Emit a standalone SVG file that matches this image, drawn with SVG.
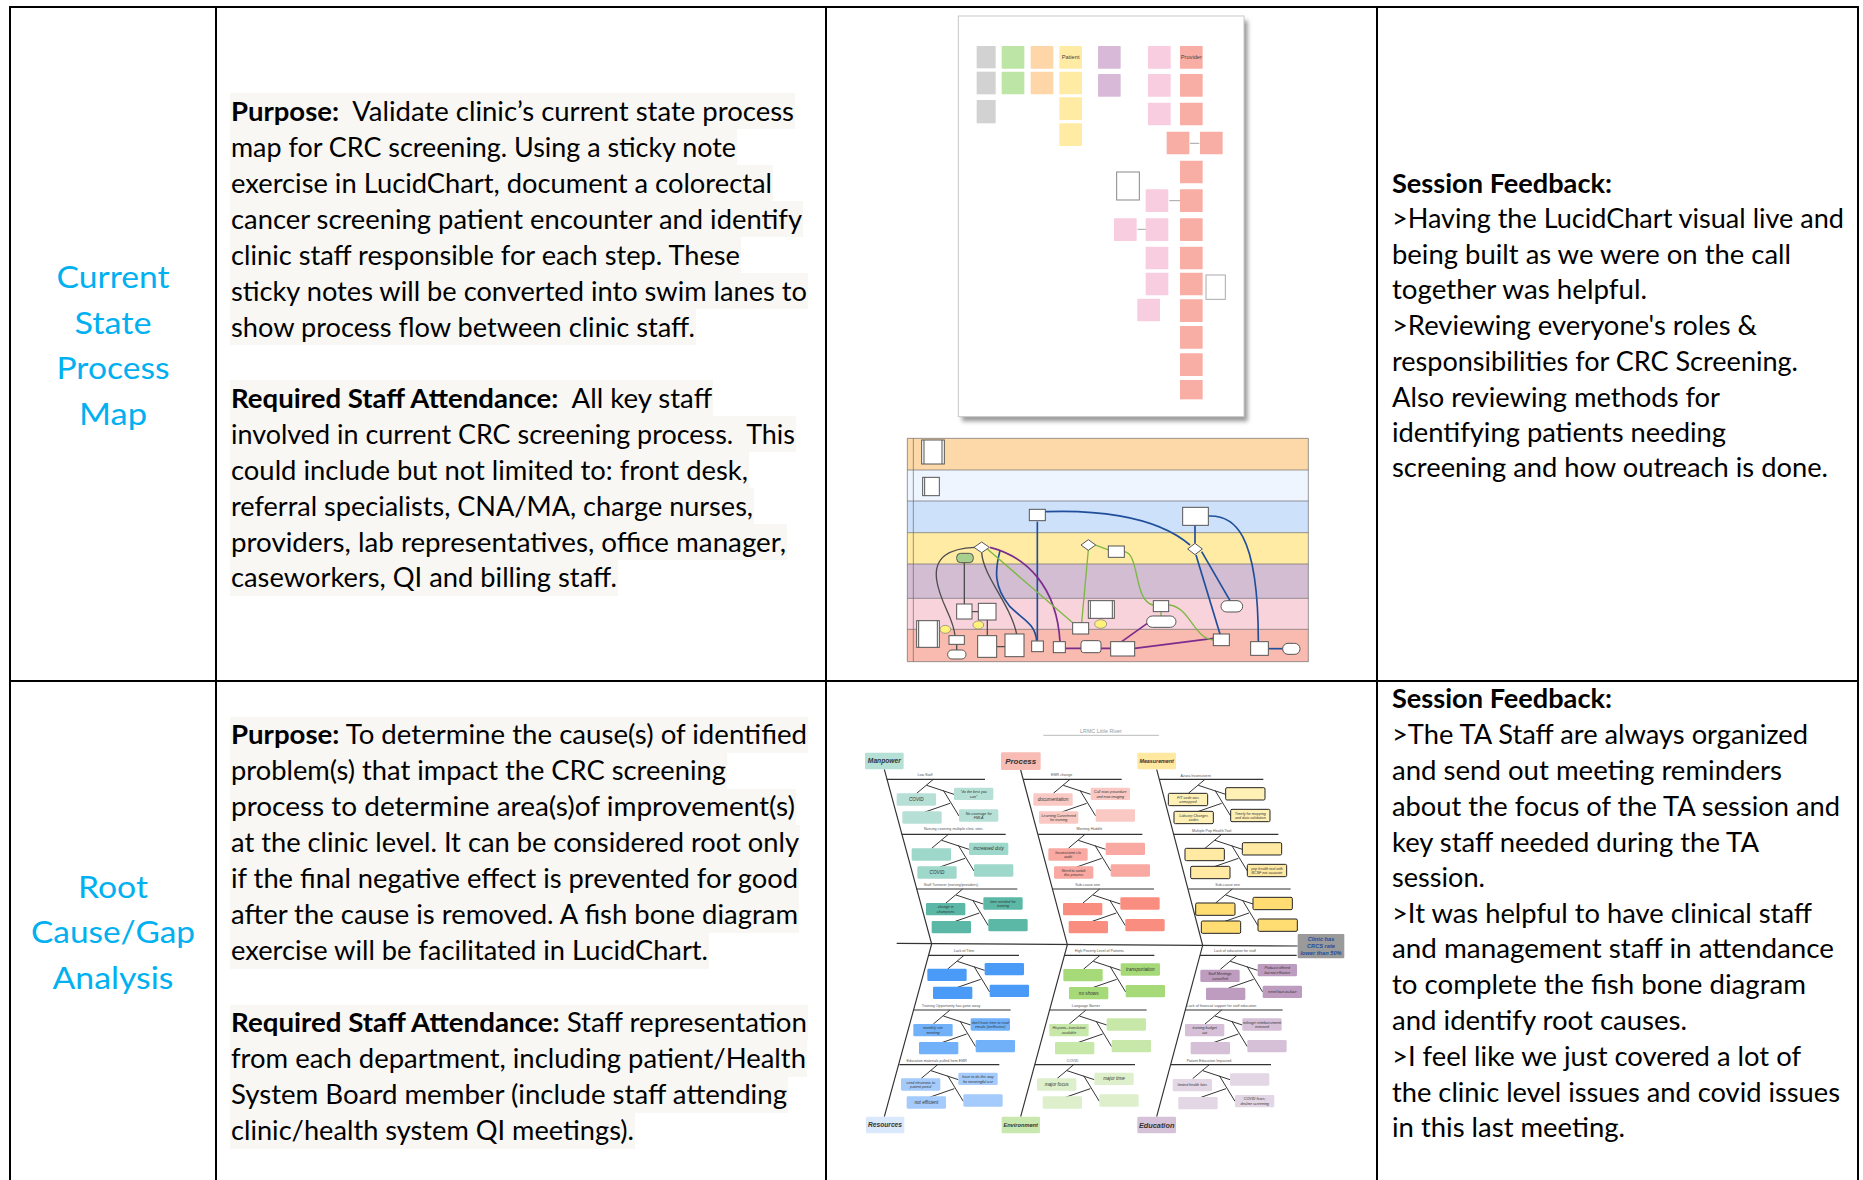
<svg xmlns="http://www.w3.org/2000/svg" xmlns:xlink="http://www.w3.org/1999/xlink" width="1863" height="1180" viewBox="0 0 1863 1180">
<style>
.t{font-family:Lato,"Liberation Sans",sans-serif;font-size:27px;fill:#000}
.b{font-weight:bold}
.lbl{font-family:Lato,"Liberation Sans",sans-serif;font-size:31px;fill:#00B0F0;text-anchor:middle}
.hl{fill:#F8F7F4}
.grid{stroke:#000;stroke-width:2;fill:none}
.sn{stroke:none}
.sw{fill:#fff;stroke:#555;stroke-width:3}
.lane{stroke:#666;stroke-width:2}
.cb{fill:none;stroke:#1F4E9A;stroke-width:5}
.cp{fill:none;stroke:#7B2D8E;stroke-width:5}
.cg{fill:none;stroke:#7DB843;stroke-width:4}
.ck{fill:none;stroke:#4D4D4D;stroke-width:4}
.bone{fill:none;stroke:#333;stroke-width:3.5}
.fb{font-family:"Liberation Sans",sans-serif;font-style:italic;fill:#333;text-anchor:middle}
.bt{font-size:14px}
.bt2{font-size:11px}
.sub{font-family:"Liberation Sans",sans-serif;font-size:11px;fill:#555;text-anchor:middle}
.cat{font-family:"Liberation Sans",sans-serif;font-style:italic;font-weight:bold;fill:#333;text-anchor:middle}
</style>
<defs>
<filter id="shd" x="-10%" y="-10%" width="130%" height="130%"><feGaussianBlur stdDeviation="6"/></filter>
<path id="fan" d="M0,0 L-50,42 M-20,18 L62,45 M30,33 L77,110 M50,72 L-25,98" fill="none" stroke="#333" stroke-width="3"/>
<rect id="bx" width="118" height="37" rx="4"/>
<rect id="st" width="68" height="68" rx="2"/>
</defs>
<rect width="1863" height="1180" fill="#fff"/>

<g id="grid">
<path class="grid" d="M9,7 H1859 M10,6 V1180 M216,7 V1180 M826,7 V1180 M1377,7 V1180 M1858,6 V1180 M9,681 H1859"/>
</g>

<g id="label-current-state">
<text class="lbl" x="113" y="288" textLength="113" lengthAdjust="spacingAndGlyphs">Current</text>
<text class="lbl" x="113" y="334" textLength="77" lengthAdjust="spacingAndGlyphs">State</text>
<text class="lbl" x="113" y="379" textLength="113" lengthAdjust="spacingAndGlyphs">Process</text>
<text class="lbl" x="113" y="425" textLength="68" lengthAdjust="spacingAndGlyphs">Map</text>
</g>
<g id="label-root-cause">
<text class="lbl" x="113" y="898" textLength="70" lengthAdjust="spacingAndGlyphs">Root</text>
<text class="lbl" x="113" y="943" textLength="164" lengthAdjust="spacingAndGlyphs">Cause/Gap</text>
<text class="lbl" x="113" y="989" textLength="121" lengthAdjust="spacingAndGlyphs">Analysis</text>
</g>

<g id="purpose-row1">
<rect class="hl" x="230" y="93" width="565" height="36"/>
<rect class="hl" x="230" y="129" width="507" height="36"/>
<rect class="hl" x="230" y="165" width="543" height="36"/>
<rect class="hl" x="230" y="201" width="573" height="36"/>
<rect class="hl" x="230" y="237" width="511" height="36"/>
<rect class="hl" x="230" y="273" width="578" height="36"/>
<rect class="hl" x="230" y="309" width="466" height="36"/>
<rect class="hl" x="230" y="380" width="483" height="36"/>
<rect class="hl" x="230" y="416" width="566" height="36"/>
<rect class="hl" x="230" y="452" width="519" height="36"/>
<rect class="hl" x="230" y="488" width="524" height="36"/>
<rect class="hl" x="230" y="524" width="557" height="36"/>
<rect class="hl" x="230" y="560" width="388" height="36"/>
<text class="t" x="231" y="121" xml:space="preserve" textLength="563" lengthAdjust="spacingAndGlyphs"><tspan class="b">Purpose:</tspan>  Validate clinic’s current state process</text>
<text class="t" x="231" y="157" textLength="505" lengthAdjust="spacingAndGlyphs">map for CRC screening. Using a sticky note</text>
<text class="t" x="231" y="193" textLength="541" lengthAdjust="spacingAndGlyphs">exercise in LucidChart, document a colorectal</text>
<text class="t" x="231" y="229" textLength="571" lengthAdjust="spacingAndGlyphs">cancer screening patient encounter and identify</text>
<text class="t" x="231" y="265" textLength="509" lengthAdjust="spacingAndGlyphs">clinic staff responsible for each step. These</text>
<text class="t" x="231" y="301" textLength="576" lengthAdjust="spacingAndGlyphs">sticky notes will be converted into swim lanes to</text>
<text class="t" x="231" y="337" textLength="464" lengthAdjust="spacingAndGlyphs">show process flow between clinic staff.</text>
<text class="t" x="231" y="408" xml:space="preserve" textLength="481" lengthAdjust="spacingAndGlyphs"><tspan class="b">Required Staff Attendance:</tspan>  All key staff</text>
<text class="t" x="231" y="444" xml:space="preserve" textLength="564" lengthAdjust="spacingAndGlyphs">involved in current CRC screening process.  This</text>
<text class="t" x="231" y="480" textLength="517" lengthAdjust="spacingAndGlyphs">could include but not limited to: front desk,</text>
<text class="t" x="231" y="516" textLength="522" lengthAdjust="spacingAndGlyphs">referral specialists, CNA/MA, charge nurses,</text>
<text class="t" x="231" y="552" textLength="555" lengthAdjust="spacingAndGlyphs">providers, lab representatives, office manager,</text>
<text class="t" x="231" y="587" textLength="386" lengthAdjust="spacingAndGlyphs">caseworkers, QI and billing staff.</text>
</g>

<g id="purpose-row2">
<rect class="hl" x="230" y="717" width="578" height="36"/>
<rect class="hl" x="230" y="753" width="497" height="36"/>
<rect class="hl" x="230" y="789" width="566" height="36"/>
<rect class="hl" x="230" y="825" width="570" height="36"/>
<rect class="hl" x="230" y="861" width="569" height="36"/>
<rect class="hl" x="230" y="897" width="569" height="36"/>
<rect class="hl" x="230" y="933" width="479" height="36"/>
<rect class="hl" x="230" y="1005" width="578" height="36"/>
<rect class="hl" x="230" y="1041" width="577" height="36"/>
<rect class="hl" x="230" y="1077" width="558" height="36"/>
<rect class="hl" x="230" y="1113" width="405" height="36"/>
<text class="t" x="231" y="744" textLength="576" lengthAdjust="spacingAndGlyphs"><tspan class="b">Purpose:</tspan> To determine the cause(s) of identified</text>
<text class="t" x="231" y="780" textLength="495" lengthAdjust="spacingAndGlyphs">problem(s) that impact the CRC screening</text>
<text class="t" x="231" y="816" textLength="564" lengthAdjust="spacingAndGlyphs">process to determine area(s)of improvement(s)</text>
<text class="t" x="231" y="852" textLength="568" lengthAdjust="spacingAndGlyphs">at the clinic level. It can be considered root only</text>
<text class="t" x="231" y="888" textLength="567" lengthAdjust="spacingAndGlyphs">if the final negative effect is prevented for good</text>
<text class="t" x="231" y="924" textLength="567" lengthAdjust="spacingAndGlyphs">after the cause is removed. A fish bone diagram</text>
<text class="t" x="231" y="960" textLength="477" lengthAdjust="spacingAndGlyphs">exercise will be facilitated in LucidChart.</text>
<text class="t" x="231" y="1032" textLength="576" lengthAdjust="spacingAndGlyphs"><tspan class="b">Required Staff Attendance:</tspan> Staff representation</text>
<text class="t" x="231" y="1068" textLength="575" lengthAdjust="spacingAndGlyphs">from each department, including patient/Health</text>
<text class="t" x="231" y="1104" textLength="556" lengthAdjust="spacingAndGlyphs">System Board member (include staff attending</text>
<text class="t" x="231" y="1140" textLength="403" lengthAdjust="spacingAndGlyphs">clinic/health system QI meetings).</text>
</g>

<g id="feedback-row1">
<text class="t b" x="1392" y="193" textLength="220" lengthAdjust="spacingAndGlyphs">Session Feedback:</text>
<text class="t" x="1392" y="228" textLength="452" lengthAdjust="spacingAndGlyphs">&gt;Having the LucidChart visual live and</text>
<text class="t" x="1392" y="264" textLength="399" lengthAdjust="spacingAndGlyphs">being built as we were on the call</text>
<text class="t" x="1392" y="299" textLength="255" lengthAdjust="spacingAndGlyphs">together was helpful.</text>
<text class="t" x="1392" y="335" textLength="365" lengthAdjust="spacingAndGlyphs">&gt;Reviewing everyone's roles &amp;</text>
<text class="t" x="1392" y="371" textLength="406" lengthAdjust="spacingAndGlyphs">responsibilities for CRC Screening.</text>
<text class="t" x="1392" y="407" textLength="328" lengthAdjust="spacingAndGlyphs">Also reviewing methods for</text>
<text class="t" x="1392" y="442" textLength="334" lengthAdjust="spacingAndGlyphs">identifying patients needing</text>
<text class="t" x="1392" y="477" textLength="436" lengthAdjust="spacingAndGlyphs">screening and how outreach is done.</text>
</g>

<g id="feedback-row2">
<text class="t b" x="1392" y="708" textLength="220" lengthAdjust="spacingAndGlyphs">Session Feedback:</text>
<text class="t" x="1392" y="744" textLength="416" lengthAdjust="spacingAndGlyphs">&gt;The TA Staff are always organized</text>
<text class="t" x="1392" y="780" textLength="390" lengthAdjust="spacingAndGlyphs">and send out meeting reminders</text>
<text class="t" x="1392" y="816" textLength="448" lengthAdjust="spacingAndGlyphs">about the focus of the TA session and</text>
<text class="t" x="1392" y="852" textLength="367" lengthAdjust="spacingAndGlyphs">key staff needed during the TA</text>
<text class="t" x="1392" y="887" textLength="93" lengthAdjust="spacingAndGlyphs">session.</text>
<text class="t" x="1392" y="923" textLength="420" lengthAdjust="spacingAndGlyphs">&gt;It was helpful to have clinical staff</text>
<text class="t" x="1392" y="958" textLength="442" lengthAdjust="spacingAndGlyphs">and management staff in attendance</text>
<text class="t" x="1392" y="994" textLength="414" lengthAdjust="spacingAndGlyphs">to complete the fish bone diagram</text>
<text class="t" x="1392" y="1030" textLength="295" lengthAdjust="spacingAndGlyphs">and identify root causes.</text>
<text class="t" x="1392" y="1066" textLength="409" lengthAdjust="spacingAndGlyphs">&gt;I feel like we just covered a lot of</text>
<text class="t" x="1392" y="1102" textLength="448" lengthAdjust="spacingAndGlyphs">the clinic level issues and covid issues</text>
<text class="t" x="1392" y="1137" textLength="233" lengthAdjust="spacingAndGlyphs">in this last meeting.</text>
</g>

<g id="sticky-notes" transform="translate(940,0) scale(0.33333)">
<rect x="66" y="62" width="857" height="1202" fill="#9a9a9a" filter="url(#shd)"/>
<rect x="55" y="48" width="857" height="1202" fill="#fff" stroke="#c8c8c8" stroke-width="3"/>
<g fill="#D2D2D2">
<rect x="110" y="138" width="57" height="67"/><rect x="110" y="215" width="57" height="68"/><rect x="110" y="300" width="57" height="70"/>
</g>
<g fill="#BDE5A6"><use href="#st" x="185" y="138"/><use href="#st" x="185" y="215"/></g>
<g fill="#FFD6A8"><use href="#st" x="272" y="138"/><use href="#st" x="272" y="215"/></g>
<g fill="#FFEBA3"><use href="#st" x="358" y="138"/><use href="#st" x="358" y="215"/><use href="#st" x="358" y="292"/><use href="#st" x="358" y="370"/></g>
<g fill="#D8BAD8"><use href="#st" x="474" y="138"/><use href="#st" x="474" y="222"/></g>
<g fill="#F9CDE0"><use href="#st" x="624" y="138"/><use href="#st" x="624" y="222"/><use href="#st" x="624" y="308"/>
<use href="#st" x="617" y="568"/><use href="#st" x="522" y="655"/><use href="#st" x="617" y="655"/><use href="#st" x="617" y="740"/><use href="#st" x="617" y="818"/><use href="#st" x="592" y="896"/></g>
<g fill="#F9AEA5"><use href="#st" x="720" y="138"/><use href="#st" x="720" y="222"/><use href="#st" x="720" y="308"/>
<use href="#st" x="680" y="395"/><use href="#st" x="780" y="395"/><use href="#st" x="720" y="482"/><use href="#st" x="720" y="568"/><use href="#st" x="720" y="655"/><use href="#st" x="720" y="740"/><use href="#st" x="720" y="818"/><use href="#st" x="720" y="898"/><use href="#st" x="720" y="978"/><use href="#st" x="720" y="1060"/><rect x="720" y="1140" width="68" height="58"/></g>
<rect x="530" y="516" width="68" height="84" fill="#fff" stroke="#888" stroke-width="3"/>
<rect x="798" y="825" width="58" height="73" fill="#fff" stroke="#aaa" stroke-width="3"/>
<path d="M750,430 H778 M720,602 H688 M617,688 H593" stroke="#777" stroke-width="2" fill="none"/>
<text x="754" y="176" font-family="Liberation Sans,sans-serif" font-size="17" fill="#444" text-anchor="middle">Provider</text>
<text x="392" y="176" font-family="Liberation Sans,sans-serif" font-size="17" fill="#444" text-anchor="middle">Patient</text>
</g>

<g id="swimlane" transform="translate(900,430) scale(0.33333)">
<rect x="22" y="25" width="1203" height="95" fill="#FDD9A9"/>
<rect x="22" y="120" width="1203" height="93" fill="#EEF5FE"/>
<rect x="22" y="213" width="1203" height="95" fill="#CDE1FA"/>
<rect x="22" y="308" width="1203" height="94" fill="#FFEBA3"/>
<rect x="22" y="402" width="1203" height="103" fill="#D2BDD3"/>
<rect x="22" y="505" width="1203" height="93" fill="#F9D3DC"/>
<rect x="22" y="598" width="1203" height="97" fill="#F9BAAF"/>
<path class="lane" d="M22,25 H1225 V695 H22 Z M22,120 H1225 M22,213 H1225 M22,308 H1225 M22,402 H1225 M22,505 H1225 M22,598 H1225 M40,25 V695" fill="none"/>
<g id="sl-connectors">
<path class="cb" d="M436,245 C560,240 760,250 870,345"/>
<path class="cb" d="M925,258 C1000,255 1075,300 1075,635"/>
<path class="cb" d="M412,275 L412,632"/>
<path class="cb" d="M885,286 L885,340"/>
<path class="cb" d="M888,375 L960,612"/>
<path class="cb" d="M905,365 L990,512"/>
<path class="cb" d="M300,362 C285,420 280,470 330,530 C370,570 405,580 410,632"/>
<path class="cb" d="M1105,656 L1148,656"/>
<path class="cp" d="M270,352 C380,380 470,470 480,635"/>
<path class="cp" d="M496,655 L543,655 M603,655 L632,655 M704,655 L940,625 M665,635 L745,578"/>
<path class="cg" d="M262,357 L520,580 M565,360 L545,578 M585,345 L625,360 M783,545 L783,558"/>
<path class="cg" d="M673,365 C720,370 700,515 760,525"/>
<path class="cg" d="M806,525 C870,530 880,625 940,630"/>
<path class="ck" d="M225,352 C150,355 100,380 110,450 C120,520 160,560 165,617"/>
<path class="ck" d="M245,368 C250,440 330,520 350,612"/>
<path class="ck" d="M193,398 L193,522 M216,545 L235,545 M262,570 L262,617 M170,643 L170,660 M290,650 L315,650"/>
</g>
<g id="sl-nodes">
<rect class="sw" x="65" y="30" width="68" height="72"/><path d="M72,30 V102 M126,30 V102" stroke="#555" stroke-width="3"/>
<rect class="sw" x="68" y="142" width="50" height="55"/><path d="M74,142 V197" stroke="#555" stroke-width="3"/>
<rect class="sw" x="388" y="238" width="48" height="34"/>
<rect class="sw" x="848" y="232" width="77" height="54"/>
<path class="sw" d="M245,336 L268,352 L245,368 L222,352 Z"/>
<path class="sw" d="M565,329 L587,345 L565,361 L543,345 Z"/>
<path class="sw" d="M885,340 L907,357 L885,374 L863,357 Z"/>
<rect class="sw" x="625" y="348" width="48" height="34"/>
<rect x="170" y="370" width="50" height="28" rx="12" fill="#A8D08D" stroke="#555" stroke-width="3"/>
<rect class="sw" x="170" y="522" width="46" height="45"/>
<rect class="sw" x="235" y="520" width="53" height="50"/>
<ellipse cx="235" cy="585" rx="16" ry="12" fill="#FFF27A" stroke="#777" stroke-width="2"/>
<rect class="sw" x="565" y="512" width="78" height="53"/><path d="M571,512 V565 M637,512 V565" stroke="#555" stroke-width="3"/>
<rect class="sw" x="518" y="578" width="48" height="34"/>
<ellipse cx="602" cy="582" rx="18" ry="13" fill="#FFF27A" stroke="#777" stroke-width="2"/>
<rect class="sw" x="760" y="512" width="46" height="33"/>
<rect class="sw" x="740" y="558" width="88" height="34" rx="17"/>
<rect class="sw" x="963" y="512" width="65" height="34" rx="17"/>
<rect class="sw" x="50" y="572" width="68" height="80"/><path d="M56,572 V652 M112,572 V652" stroke="#555" stroke-width="3"/>
<ellipse cx="136" cy="598" rx="16" ry="12" fill="#FFF27A" stroke="#777" stroke-width="2"/>
<rect class="sw" x="147" y="617" width="46" height="26"/>
<rect class="sw" x="143" y="660" width="55" height="27" rx="13"/>
<rect class="sw" x="233" y="617" width="57" height="65"/>
<rect class="sw" x="315" y="612" width="57" height="68"/>
<rect class="sw" x="395" y="633" width="35" height="32"/>
<rect class="sw" x="460" y="635" width="36" height="33"/>
<rect class="sw" x="543" y="632" width="60" height="36" rx="8"/>
<rect class="sw" x="632" y="635" width="72" height="43"/>
<rect class="sw" x="940" y="612" width="48" height="35"/>
<rect class="sw" x="1052" y="635" width="53" height="41"/>
<rect class="sw" x="1148" y="640" width="52" height="33" rx="16"/>
</g>
</g>

<g id="fishbone" transform="translate(855,700) scale(0.33333)">
<text x="738" y="100" font-family="Liberation Sans,sans-serif" font-size="16" fill="#999" text-anchor="middle">LRMC Little River</text>
<path d="M565,106 H912" stroke="#999" stroke-width="2"/>
<g id="fb-bones">
<path class="bone" d="M125,730 L1328,738"/>
<path class="bone" d="M88,208 L230,732 L88,1250 M497,210 L637,734 L497,1250 M905,208 L1043,736 L905,1250"/>
<path class="bone" d="M95,238 H390 M140,403 H452 M183,567 H487 M505,238 H800 M550,403 H862 M594,567 H897 M913,238 H1225 M955,403 H1270 M1000,567 H1307"/>
<path class="bone" d="M220,766 H492 M177,930 H467 M133,1094 H433 M627,766 H898 M584,930 H875 M540,1094 H840 M1035,766 H1325 M990,930 H1283 M947,1094 H1248"/>
<use href="#fan" x="235" y="238"/><use href="#fan" x="280" y="403"/><use href="#fan" x="323" y="567"/>
<use href="#fan" x="645" y="238"/><use href="#fan" x="690" y="403"/><use href="#fan" x="734" y="567"/>
<use href="#fan" x="1050" y="238"/><use href="#fan" x="1100" y="403"/><use href="#fan" x="1132" y="567"/>
<use href="#fan" x="327" y="766"/><use href="#fan" x="285" y="930"/><use href="#fan" x="248" y="1094"/>
<use href="#fan" x="735" y="766"/><use href="#fan" x="693" y="930"/><use href="#fan" x="656" y="1094"/>
<use href="#fan" x="1146" y="766"/><use href="#fan" x="1100" y="930"/><use href="#fan" x="1063" y="1094"/>
</g>
<g id="fb-sublabels">
<text class="sub" x="210" y="228">Low Staff</text>
<text class="sub" x="295" y="389">Nursing covering multiple clinic sites</text>
<text class="sub" x="288" y="557">Staff Turnover (nursing/providers)</text>
<text class="sub" x="620" y="228">EMR change</text>
<text class="sub" x="703" y="389">Morning Huddle</text>
<text class="sub" x="698" y="557">Sub-cause one</text>
<text class="sub" x="1022" y="231">Azara Inconsistent</text>
<text class="sub" x="1070" y="395">Multiple Pop Health Tool</text>
<text class="sub" x="1118" y="557">Sub-cause one</text>
<text class="sub" x="327" y="756">Lack of Time</text>
<text class="sub" x="288" y="920">Training Opportunity has gone away</text>
<text class="sub" x="245" y="1085">Education materials pulled from EMR</text>
<text class="sub" x="733" y="756">High Poverty Level of Patients</text>
<text class="sub" x="693" y="920">Language Barrier</text>
<text class="sub" x="653" y="1085">COVID</text>
<text class="sub" x="1140" y="756">Lack of education for staff</text>
<text class="sub" x="1100" y="920">Lack of financial support for staff education</text>
<text class="sub" x="1062" y="1085">Patient Education Impacted</text>
</g>
<g id="fb-manpower">
<rect x="30" y="158" width="116" height="50" rx="4" fill="#B5E0D6"/>
<text class="cat" x="88" y="190" font-size="20">Manpower</text>
<g fill="#B6E0D6"><use href="#bx" x="125" y="280"/><use href="#bx" x="297" y="263"/><use href="#bx" x="142" y="334"/><use href="#bx" x="312" y="328"/></g>
<g fill="#9DD8CB"><use href="#bx" x="170" y="445"/><use href="#bx" x="342" y="428"/><use href="#bx" x="187" y="499"/><use href="#bx" x="357" y="493"/></g>
<g fill="#5CB8A6"><use href="#bx" x="213" y="609"/><use href="#bx" x="385" y="592"/><use href="#bx" x="230" y="663"/><use href="#bx" x="400" y="657"/></g>
<text class="fb bt" x="184" y="303">COVID</text>
<text class="fb bt2" x="356" y="279">"do the best you</text><text class="fb bt2" x="356" y="293">can"</text>
<text class="fb bt2" x="371" y="344">No coverage for</text><text class="fb bt2" x="371" y="358">FMLA</text>
<text class="fb bt" x="401" y="451">increased duty</text>
<text class="fb bt" x="246" y="522">COVID</text>
<text class="fb bt2" x="272" y="625">change in</text><text class="fb bt2" x="272" y="639">champions</text>
<text class="fb bt2" x="444" y="608">time needed for</text><text class="fb bt2" x="444" y="622">training</text>
</g>
<g id="fb-process">
<rect x="438" y="157" width="119" height="53" rx="4" fill="#F9BCB4"/>
<text class="cat" x="497" y="191" font-size="24">Process</text>
<g fill="#FAC9C3"><use href="#bx" x="535" y="280"/><use href="#bx" x="707" y="263"/><use href="#bx" x="552" y="334"/><use href="#bx" x="722" y="328"/></g>
<g fill="#F9A9A1"><use href="#bx" x="580" y="445"/><use href="#bx" x="752" y="428"/><use href="#bx" x="597" y="499"/><use href="#bx" x="767" y="493"/></g>
<g fill="#F98E80"><use href="#bx" x="624" y="609"/><use href="#bx" x="796" y="592"/><use href="#bx" x="641" y="663"/><use href="#bx" x="811" y="657"/></g>
<text class="fb bt" x="594" y="303">documentation</text>
<text class="fb bt2" x="766" y="279">Call rows procedure</text><text class="fb bt2" x="766" y="293">and now imaging</text>
<text class="fb bt2" x="611" y="350">Learning Curve/need</text><text class="fb bt2" x="611" y="364">for training</text>
<text class="fb bt2" x="639" y="461">Inconsistent s/o</text><text class="fb bt2" x="639" y="475">audit</text>
<text class="fb bt2" x="656" y="515">Need to switch</text><text class="fb bt2" x="656" y="529">this process</text>
</g>
<g id="fb-measurement">
<rect x="847" y="158" width="116" height="50" rx="4" fill="#FFE9A0"/>
<text class="cat" x="905" y="189" font-size="16">Measurement</text>
<g fill="#FFF0B5" stroke="#222" stroke-width="3"><use href="#bx" x="940" y="280"/><use href="#bx" x="1112" y="263"/><use href="#bx" x="957" y="334"/><use href="#bx" x="1127" y="328"/></g>
<g fill="#FFE9A3" stroke="#222" stroke-width="3"><use href="#bx" x="990" y="445"/><use href="#bx" x="1162" y="428"/><use href="#bx" x="1007" y="499"/><use href="#bx" x="1177" y="493"/></g>
<g fill="#FFDD72" stroke="#222" stroke-width="3"><use href="#bx" x="1022" y="609"/><use href="#bx" x="1194" y="592"/><use href="#bx" x="1039" y="663"/><use href="#bx" x="1209" y="657"/></g>
<text class="fb bt2" x="999" y="296">FIT code was</text><text class="fb bt2" x="999" y="310">unmapped</text>
<text class="fb bt2" x="1016" y="350">Labcorp Changes</text><text class="fb bt2" x="1016" y="364">codes</text>
<text class="fb bt2" x="1186" y="344">Timely for mapping</text><text class="fb bt2" x="1186" y="358">and data validation</text>
<text class="fb bt2" x="1236" y="509">pop health tool with</text><text class="fb bt2" x="1236" y="523">BCSF not accurate</text>
</g>
<g id="fb-effect">
<rect x="1328" y="702" width="140" height="73" rx="3" fill="#9A9A9A"/>
<text class="cat" x="1398" y="722" font-size="17" fill="#1D4E9E" style="fill:#1D4E9E">Clinic has</text>
<text class="cat" x="1398" y="744" font-size="17" style="fill:#1D4E9E">CRCS rate</text>
<text class="cat" x="1398" y="766" font-size="17" style="fill:#1D4E9E">lower than 50%</text>
</g>
<g id="fb-resources">
<rect x="33" y="1250" width="115" height="50" rx="4" fill="#DAE8FC"/>
<text class="cat" x="90" y="1282" font-size="20">Resources</text>
<g fill="#4A9BF7"><use href="#bx" x="217" y="806"/><use href="#bx" x="389" y="789"/><use href="#bx" x="234" y="860"/><use href="#bx" x="404" y="854"/></g>
<g fill="#70B1FA"><use href="#bx" x="175" y="972"/><use href="#bx" x="347" y="955"/><use href="#bx" x="192" y="1026"/><use href="#bx" x="362" y="1020"/></g>
<g fill="#A4CBFB"><use href="#bx" x="138" y="1135"/><use href="#bx" x="310" y="1118"/><use href="#bx" x="155" y="1189"/><use href="#bx" x="325" y="1183"/></g>
<text class="fb bt2" x="234" y="988">monthly site</text><text class="fb bt2" x="234" y="1002">meeting</text>
<text class="fb bt2" x="406" y="971">don't have time to read</text><text class="fb bt2" x="406" y="985">emails (ineffective)</text>
<text class="fb bt2" x="197" y="1151">send electronic to</text><text class="fb bt2" x="197" y="1165">patient portal</text>
<text class="fb bt2" x="369" y="1134">have to do this way</text><text class="fb bt2" x="369" y="1148">for meaningful use</text>
<text class="fb bt" x="214" y="1212">not efficient</text>
</g>
<g id="fb-environment">
<rect x="440" y="1250" width="115" height="50" rx="4" fill="#C9E8B0"/>
<text class="cat" x="497" y="1281" font-size="17">Environment</text>
<g fill="#A6DA78"><use href="#bx" x="625" y="807"/><use href="#bx" x="797" y="790"/><use href="#bx" x="642" y="861"/><use href="#bx" x="812" y="855"/></g>
<g fill="#C8E8AA"><use href="#bx" x="583" y="972"/><use href="#bx" x="755" y="955"/><use href="#bx" x="600" y="1026"/><use href="#bx" x="770" y="1020"/></g>
<g fill="#DDF0CB"><use href="#bx" x="546" y="1135"/><use href="#bx" x="718" y="1118"/><use href="#bx" x="563" y="1189"/><use href="#bx" x="733" y="1183"/></g>
<text class="fb bt" x="856" y="813">transportation</text>
<text class="fb bt" x="701" y="884">no shows</text>
<text class="fb bt2" x="642" y="988">Hispanic- translation</text><text class="fb bt2" x="642" y="1002">available</text>
<text class="fb bt" x="605" y="1158">major focus</text>
<text class="fb bt" x="777" y="1141">major time</text>
</g>
<g id="fb-education">
<rect x="847" y="1250" width="116" height="50" rx="4" fill="#D5C1D8"/>
<text class="cat" x="905" y="1283" font-size="22">Education</text>
<g fill="#BD9CC0"><use href="#bx" x="1036" y="809"/><use href="#bx" x="1208" y="792"/><use href="#bx" x="1053" y="863"/><use href="#bx" x="1223" y="857"/></g>
<g fill="#D5C0D7"><use href="#bx" x="990" y="972"/><use href="#bx" x="1162" y="955"/><use href="#bx" x="1007" y="1026"/><use href="#bx" x="1177" y="1020"/></g>
<g fill="#E3D6E5"><use href="#bx" x="953" y="1137"/><use href="#bx" x="1125" y="1120"/><use href="#bx" x="970" y="1191"/><use href="#bx" x="1140" y="1185"/></g>
<text class="fb bt2" x="1095" y="825">Staff Meetings</text><text class="fb bt2" x="1095" y="839">cancelled</text>
<text class="fb bt2" x="1267" y="808">Podcast offered</text><text class="fb bt2" x="1267" y="822">but not effective</text>
<text class="fb bt2" x="1282" y="879">need face-to-face</text>
<text class="fb bt2" x="1049" y="988">training budget</text><text class="fb bt2" x="1049" y="1002">cut</text>
<text class="fb bt2" x="1221" y="971">mileage reimbursement</text><text class="fb bt2" x="1221" y="985">removed</text>
<text class="fb bt2" x="1012" y="1159">limited health fairs</text>
<text class="fb bt2" x="1199" y="1201">COVID fears;</text><text class="fb bt2" x="1199" y="1215">decline screening</text>
</g>
</g>
</svg>
